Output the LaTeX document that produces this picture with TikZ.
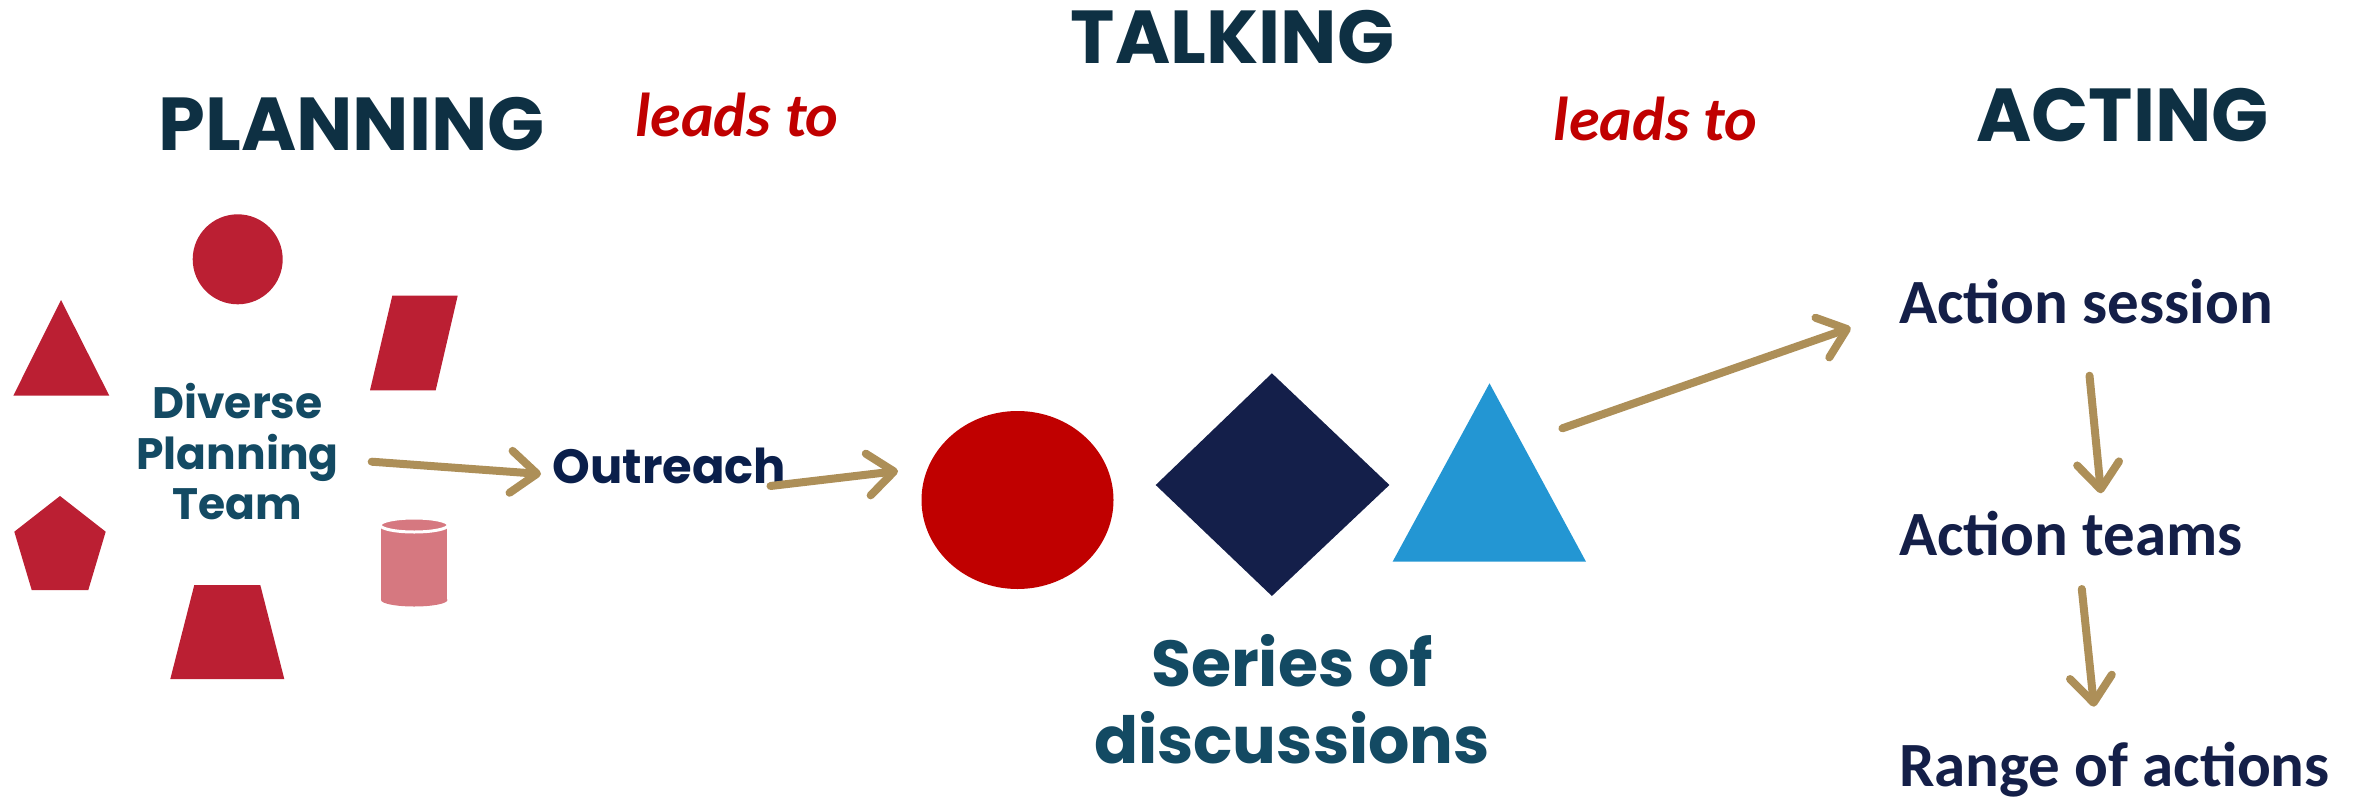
\documentclass[tikz,border=0pt]{standalone}
\usepackage{fontspec}
\newfontfamily\popfont{Poppins}
\newfontfamily\calfont{Carlito}
\usetikzlibrary{arrows.meta}
\definecolor{headc}{HTML}{0E3043}
\definecolor{tealc}{HTML}{134A63}
\definecolor{outc}{HTML}{0A1F4B}
\definecolor{actc}{HTML}{141F48}
\definecolor{leadc}{HTML}{C00000}
\definecolor{shapered}{HTML}{BB1F33}
\definecolor{cylc}{HTML}{D67880}
\definecolor{arrowc}{HTML}{AD8F58}
\definecolor{ellc}{HTML}{C00000}
\definecolor{diac}{HTML}{141F4A}
\definecolor{bluec}{HTML}{2396D3}
\tikzset{
  heading/.style={inner sep=0pt, anchor=base, text=headc, font=\popfont\bfseries\fontsize{75}{80}\selectfont},
  leadtxt/.style={inner sep=0pt, anchor=base, text=leadc, font=\calfont\bfseries\itshape\fontsize{62}{70}\selectfont},
  acttxt/.style={inner sep=0pt, anchor=base west, text=actc, font=\calfont\bfseries\fontsize{63}{70}\selectfont},
  flowarrow/.style={draw=arrowc, line width=8pt, line cap=round, -{Straight Barb[length=26pt,width=42pt,round]}}
}
\begin{document}
\begin{tikzpicture}[x=1pt,y=-1pt]
\useasboundingbox (0,0) rectangle (2366,800);
% headings
\node[heading] (planning) at (351.7,150.7) {PLANNING};
\node[heading] (talking) at (1232.6,63.3) {TALKING};
\node[heading] (acting) at (2122.5,141.7) {ACTING};
\node[leadtxt] (lead1) at (737,136.7) {leads to};
\node[leadtxt] (lead2) at (1655.5,140) {leads to};
% planning shapes
\fill[shapered] (237.7,259.3) circle (45);
\fill[shapered] (61,300) -- (109.3,395.7) -- (13.3,395.7) -- cycle;
\fill[shapered] (392.3,295.7) -- (457.7,295.7) -- (435.7,390.3) -- (370,390.3) -- cycle;
\fill[shapered] (60,496) -- (105.7,531.7) -- (88.3,590) -- (31.7,590) -- (14.3,531.7) -- cycle;
\fill[shapered] (194.3,585) -- (260.3,585) -- (284.3,679) -- (170.3,679) -- cycle;
% cylinder
\fill[cylc] (381,525) rectangle (447.3,600);
\fill[cylc] (414.2,600) ellipse (33.2 and 6.5);
\filldraw[fill=cylc, draw=white, line width=3pt] (414.2,525) ellipse (34 and 7);
\node[inner sep=0pt, text=tealc, align=center, font=\popfont\bfseries\fontsize{44}{50.5}\selectfont] (dpt) at (237.5,452) {Diverse\\Planning\\Team};
\node[inner sep=0pt, anchor=base, text=outc, font=\popfont\bfseries\fontsize{48}{52}\selectfont] (outreach) at (669.5,483.3) {Outreach};
% talking shapes
\fill[ellc] (1017.5,500) ellipse (96 and 89);
\fill[diac] (1271.9,373.3) -- (1389.4,485) -- (1271.9,596) -- (1155.7,485) -- cycle;
\fill[bluec] (1489.5,383.3) -- (1586,561.7) -- (1392.6,561.7) -- cycle;
\node[inner sep=0pt, text=tealc, align=center, font=\popfont\bfseries\fontsize{65}{76.7}\selectfont] (series) at (1292,699) {Series of\\discussions};
% acting
\node[acttxt] (asession) at (1899,323.3) {Action session};
\node[acttxt] (ateams) at (1899,555) {Action teams};
\node[acttxt] (range) at (1899,786.7) {Range of actions};
% connector ends
\coordinate (a1s) at (371.7,461.7);
\coordinate (a1e) at (541,474);
\coordinate (a2s) at (770.5,486);
\coordinate (a2e) at (898,471);
\coordinate (a3s) at (1562.4,428.3);
\coordinate (a3e) at (1850.7,327.7);
\coordinate (a4s) at (2089.5,375.7);
\coordinate (a4e) at (2101,493.3);
\coordinate (a5s) at (2081.8,589);
\coordinate (a5e) at (2094,706.7);
\draw[flowarrow] (a1s) -- (a1e);
\draw[flowarrow] (a2s) -- (a2e);
\draw[flowarrow] (a3s) -- (a3e);
\draw[flowarrow] (a4s) -- (a4e);
\draw[flowarrow] (a5s) -- (a5e);
\end{tikzpicture}
\end{document}
